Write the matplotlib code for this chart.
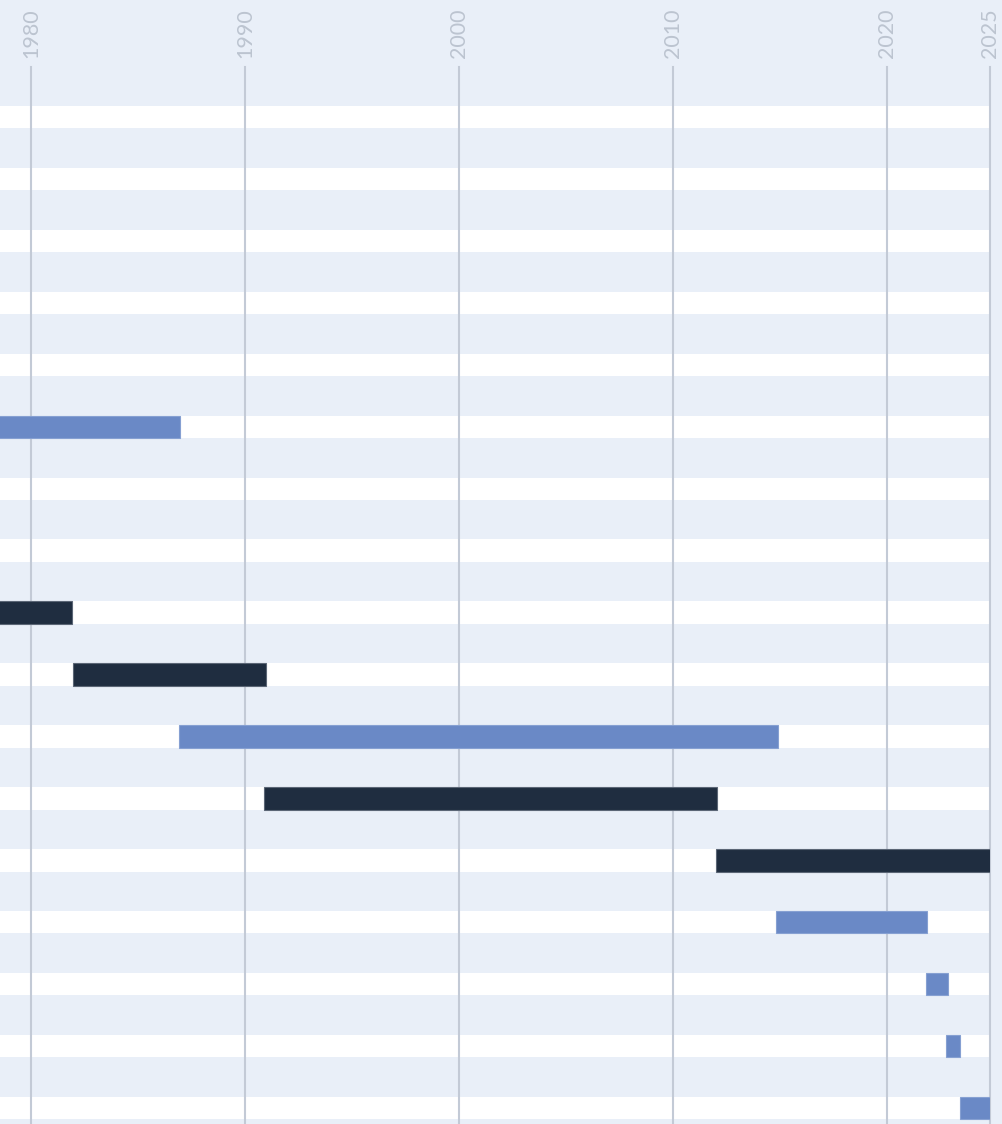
import matplotlib
matplotlib.use("Agg")
import matplotlib.pyplot as plt
import matplotlib.transforms as mtransforms

# ---- data ----
n_rows = 17
bar_rows = [5, 8, 9, 10, 11, 12, 13, 14, 15, 16]
bar_start = [1976.0, 1976.0, 1981.98, 1986.9, 1990.89, 2012.01, 2014.81, 2021.82, 2022.77, 2023.43]
bar_end = [1986.98, 1981.9, 1990.98, 2014.92, 2012.06, 2025.0, 2021.87, 2022.87, 2023.43, 2024.81]
bar_kind = ["light", "dark", "dark", "light", "dark", "dark", "light", "light", "light", "light"]
tick_years = [1980, 1990, 2000, 2010, 2020, 2025]
x_start, x_end = 1978.55, 2024.81

# ---- style ----
BG = "#e9eff8"
BLUE = "#6a89c6"
DARK = "#1f2d40"
GRID = "#c3cad6"
TEXT = "#bcc4d0"
colors = {"light": BLUE, "dark": DARK}
edges = {"light": "#86a0d2", "dark": "#5b6676"}

W, H = 1002, 1124
fig = plt.figure(figsize=(W / 100, H / 100), dpi=100, facecolor=BG)
ax = fig.add_axes([0, (H - 1123) / H, 990 / W, (1123 - 67) / H])
ax.set_facecolor(BG)
for s in ax.spines.values():
    s.set_visible(False)
ax.set_xticks([])
ax.set_yticks([])

ax.set_xlim(x_start, x_end)
ax.set_ylim(16.243, -0.811)

bar_h = 0.363
for i in range(n_rows):
    ax.axhspan(i - bar_h / 2, i + bar_h / 2, color="white", zorder=0, lw=0)

offset = mtransforms.offset_copy(ax.get_xaxis_transform(), fig=fig, x=0, y=9, units="dots")
for yr in tick_years:
    xpos = min(yr, x_end)
    ax.axvline(xpos, color=GRID, lw=1.5, zorder=1, clip_on=False)
    ax.text(xpos, 1.0, str(yr), transform=offset, rotation=90, ha="center", va="bottom",
            fontsize=15.5, color=TEXT, family=["Lato", "DejaVu Sans"], fontweight="normal")

for r, s, e, k in zip(bar_rows, bar_start, bar_end, bar_kind):
    ax.barh(r, e - s, left=s, height=bar_h, color=colors[k], edgecolor=edges[k],
            linewidth=0.8, zorder=2)

fig.savefig("out.png", dpi=100, facecolor=BG)
